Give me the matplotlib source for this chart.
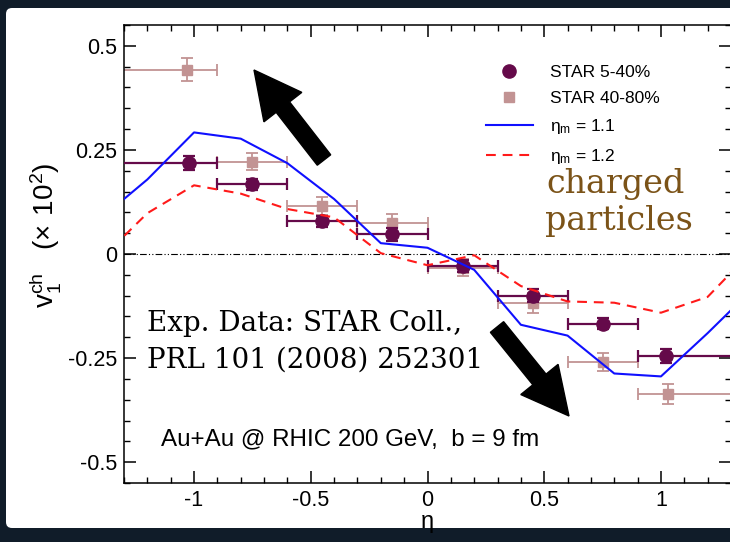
import matplotlib
matplotlib.use('Agg')

import matplotlib.pyplot as plt
import matplotlib.patches as mpatches

plt.rcParams['font.family'] = ['Liberation Sans', 'DejaVu Sans']

# STAR data, 5-40% centrality
eta_5_40 = [-1.02, -0.75, -0.45, -0.15, 0.15, 0.45, 0.75, 1.02]
v1_5_40 = [0.218, 0.167, 0.079, 0.047, -0.029, -0.100, -0.167, -0.244]
err_5_40 = [0.017, 0.014, 0.013, 0.015, 0.014, 0.015, 0.013, 0.017]

# STAR data, 40-80% centrality
eta_40_80 = [-1.03, -0.75, -0.45, -0.15, 0.15, 0.45, 0.75, 1.03]
v1_40_80 = [0.443, 0.222, 0.115, 0.074, -0.033, -0.117, -0.260, -0.337]
err_40_80 = [0.028, 0.020, 0.022, 0.022, 0.020, 0.024, 0.022, 0.024]

# eta bins of the data points
eta_lo = [-1.5, -0.9, -0.6, -0.3, 0.0, 0.3, 0.6, 0.9]
eta_hi = [-0.9, -0.6, -0.3, 0.0, 0.3, 0.6, 0.9, 1.5]

# model curves
eta_model = [-1.4, -1.2, -1.0, -0.8, -0.6, -0.4, -0.2, 0.0, 0.2, 0.4, 0.6, 0.8, 1.0, 1.2, 1.4]
v1_eta11 = [0.085, 0.179, 0.292, 0.277, 0.218, 0.132, 0.026, 0.015, -0.038, -0.170, -0.196, -0.287, -0.294, -0.190, -0.080]
v1_eta12 = [-0.012, 0.098, 0.165, 0.145, 0.108, 0.088, 0.002, -0.027, -0.003, -0.077, -0.114, -0.117, -0.141, -0.103, 0.013]

xticks = [-1, -0.5, 0, 0.5, 1]
xtick_labels = ['-1', '-0.5', '0', '0.5', '1']
yticks = [-0.5, -0.25, 0, 0.25, 0.5]
ytick_labels = ['-0.5', '-0.25', '0', '0.25', '0.5']

c_dark = '#650a4a'
c_light = '#c29393'

W, H = 730, 542
fig = plt.figure(figsize=(W / 100, H / 100), dpi=100)
fig.patch.set_facecolor('#101c29')

# white slide panel, pixel coordinates
bg = fig.add_axes([0, 0, 1, 1], zorder=0)
bg.set_xlim(0, W)
bg.set_ylim(H, 0)
bg.axis('off')
bg.add_patch(mpatches.FancyBboxPatch((6, 8), W, 520, boxstyle='round,pad=0,rounding_size=6',
                                     fc='white', ec='none'))

ax = fig.add_axes([124 / W, 59 / H, 607 / W, 458 / H], zorder=1)
ax.set_facecolor('none')

def xerr(eta):
    return [[e - lo for e, lo in zip(eta, eta_lo)], [hi - e for e, hi in zip(eta, eta_hi)]]

ax.errorbar(eta_40_80, v1_40_80, xerr=xerr(eta_40_80), yerr=err_40_80, fmt='none',
            ecolor=c_light, elinewidth=1.3, capsize=4.5, capthick=1.3, zorder=2)
ax.plot(eta_40_80, v1_40_80, 's', color=c_light, ms=7.5, zorder=3, label='STAR 40-80%')
ax.errorbar(eta_5_40, v1_5_40, xerr=xerr(eta_5_40), yerr=err_5_40, fmt='none',
            ecolor=c_dark, elinewidth=1.6, capsize=4.5, capthick=1.6, zorder=4)
ax.plot(eta_5_40, v1_5_40, 'o', color=c_dark, ms=9.5, zorder=5, label='STAR 5-40%')

ax.plot(eta_model, v1_eta11, color='#1010ff', lw=1.5, zorder=6, label=r'$\mathregular{η_m}$ = 1.1')
ax.plot(eta_model, v1_eta12, color='#ff1a1a', lw=1.5, ls=(0, (4.7, 3.3)), zorder=6,
        label=r'$\mathregular{η_m}$ = 1.2')

ax.axhline(0, color='black', lw=0.8, ls=(0, (6, 2, 1, 2, 1, 2)), zorder=1)

ax.set_xlim(-1.3, 1.3)
ax.set_ylim(-0.55, 0.55)
ax.set_xticks(xticks)
ax.set_xticklabels(xtick_labels)
ax.set_yticks(yticks)
ax.set_yticklabels(ytick_labels)
ax.set_xticks([i / 10 for i in range(-13, 14)], minor=True)
ax.set_yticks([i / 20 for i in range(-11, 12)], minor=True)
ax.tick_params(which='both', direction='in', top=True, right=True, labelsize=15.5)
ax.tick_params(which='major', length=8.6, width=1.1, pad=5)
ax.tick_params(which='minor', length=4.3, width=1.0)
for s in ax.spines.values():
    s.set_linewidth(1.1)

ax.set_xlabel('η', fontsize=17, labelpad=0)
ax.set_ylabel(r'$\mathregular{v_1^{ch}}$   $\mathregular{(\times\ 10^2)}$', fontsize=20)
ax.yaxis.set_label_coords(-0.10, 0.54)

handles, labels = ax.get_legend_handles_labels()
order = [1, 0, 2, 3]
ax.legend([handles[i] for i in order], [labels[i] for i in order],
          loc='upper left', bbox_to_anchor=(486 / W, 1 - 65 / H), bbox_transform=fig.transFigure,
          frameon=False, fontsize=12.5, handlelength=2.7, handletextpad=1.0,
          labelspacing=0.62, borderpad=0, borderaxespad=0, numpoints=1)

# annotation overlay in pixel coordinates
ov = fig.add_axes([0, 0, 1, 1], zorder=3)
ov.set_xlim(0, W)
ov.set_ylim(H, 0)
ov.axis('off')
ov.add_patch(mpatches.FancyArrow(324, 160, -70, -90, width=17, head_width=48, head_length=47,
                                 length_includes_head=True, color='black'))
ov.add_patch(mpatches.FancyArrow(497, 327, 72, 89, width=17, head_width=48, head_length=47,
                                 length_includes_head=True, color='black'))

ov.text(147, 331, 'Exp. Data: STAR Coll.,', family='DejaVu Serif', fontsize=20, va='baseline')
ov.text(147, 368, 'PRL 101 (2008) 252301', family='DejaVu Serif', fontsize=20, va='baseline')
ov.text(546, 193, 'charged', family='DejaVu Serif', fontsize=24, color='#7b5318', va='baseline')
ov.text(545, 230, 'particles', family='DejaVu Serif', fontsize=24, color='#7b5318', va='baseline')
ov.text(161, 445, 'Au+Au @ RHIC 200 GeV,  b = 9 fm', fontsize=17.4, va='baseline')

fig.savefig('out.png', dpi=100, facecolor=fig.get_facecolor())
